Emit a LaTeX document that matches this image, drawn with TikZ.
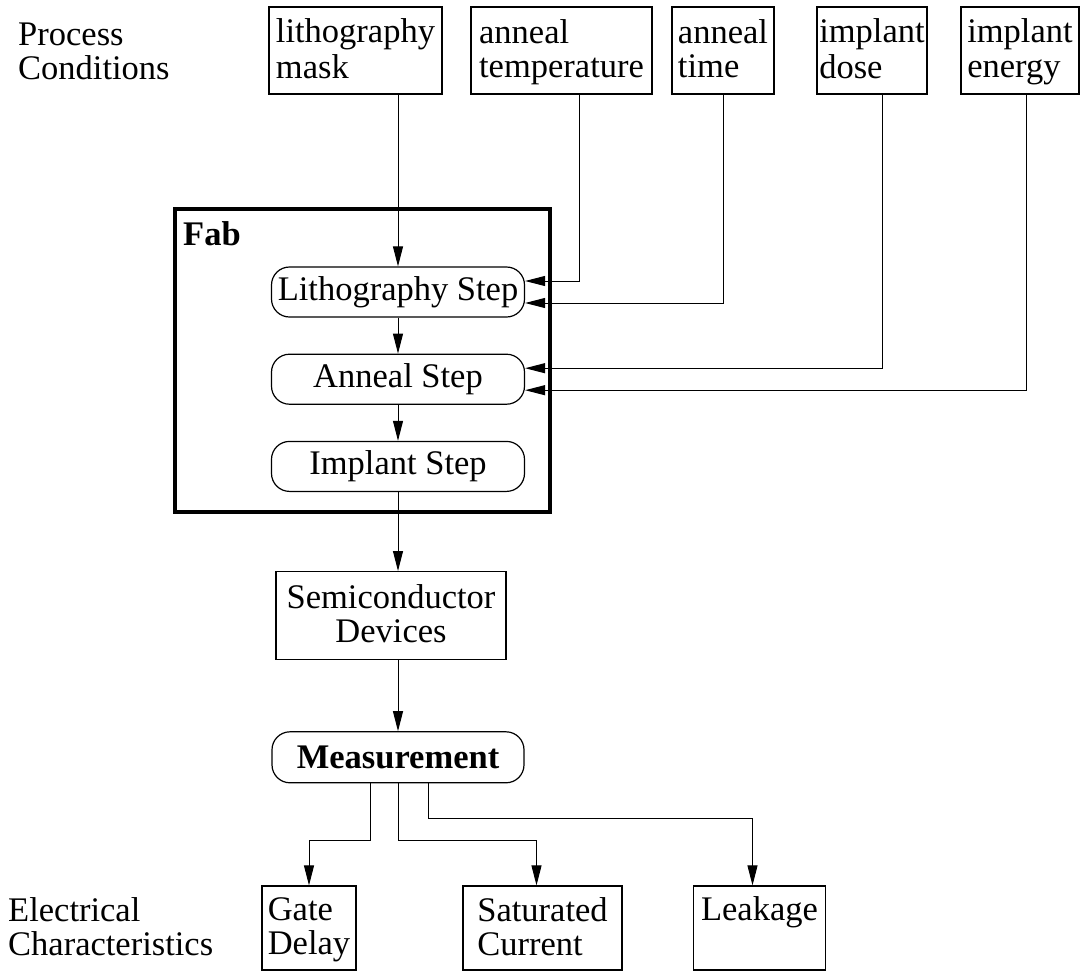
\documentclass[tikz,border=0pt]{standalone}
\usepackage{fontspec}
\setmainfont{Liberation Serif}
\usetikzlibrary{arrows.meta,positioning}
\newcommand{\linestrut}{\rule[-7pt]{0pt}{34pt}}

\begin{document}
\begin{tikzpicture}[x=1pt, y=-1pt, node distance=36pt, >={Triangle[length=20pt,width=10pt]},
  every node/.style={font=\fontsize{34.5}{34}\selectfont, inner sep=0pt},
  cond/.style={draw, line width=1.2pt, align=left, minimum height=87pt},
  stepbox/.style={draw, line width=1.2pt, rounded corners=18pt, minimum width=253pt, minimum height=50pt},
  result/.style={draw, line width=1.2pt, align=left, minimum height=84pt},
  link/.style={->, line width=1pt}]
\useasboundingbox (0,0) rectangle (1081,972);

% process conditions
\node[anchor=west, align=left] (pc) at (18,52) {Process\linestrut\\Conditions\linestrut};
\node[cond, minimum width=173pt] (mask) at (355.5,50.5) {lithography\linestrut\\mask\linestrut};
\node[cond, minimum width=181pt] (atemp) at (561.5,50.5) {anneal\linestrut\\temperature\linestrut};
\node[cond, minimum width=102pt] (atime) at (723,50.5) {anneal\linestrut\\time\linestrut};
\node[cond, minimum width=110pt] (idose) at (872,50.5) {implant\linestrut\\dose\linestrut};
\node[cond, minimum width=118pt] (ienergy) at (1020,50.5) {implant\linestrut\\energy\linestrut};

% fab
\node[draw, line width=3.5pt, minimum width=375pt, minimum height=303pt] (fab) at (362.5,360.5) {};
\node[anchor=base west] (fabname) at (183,245) {\textbf{Fab}};
\node[stepbox] (lstep) at (398,292) {Lithography Step};
\node[stepbox, below=of lstep] (astep) {Anneal Step};
\node[stepbox, below=of astep] (istep) {Implant Step};

\node[draw, line width=1.2pt, align=center, minimum width=230pt, minimum height=88pt, below=79pt of istep, xshift=-7pt] (devices) {Semiconductor\linestrut\\Devices\linestrut};
\node[stepbox, minimum width=252pt, minimum height=51pt, below=71pt of devices, xshift=7pt] (meas) {\textbf{Measurement}};

% electrical characteristics
\node[anchor=west, align=left] (ec) at (8,928) {Electrical\linestrut\\Characteristics\linestrut};
\node[result, minimum width=94pt] (gate) at (309,928) {Gate\linestrut\\Delay\linestrut};
\node[result, minimum width=159pt] (sat) at (542.5,928) {Saturated\linestrut\\Current\linestrut};
\node[result, minimum width=132pt] (leak) at (759.5,928) {Leakage\linestrut\\\linestrut};

\draw[link] (mask.south -| lstep.north) -- (lstep.north);
\draw[link] ([xshift=18pt]atemp.south) |- ([yshift=11pt]lstep.east);
\draw[link] (atime.south) |- ([yshift=-11pt]lstep.east);
\draw[link] ([xshift=10pt]idose.south) |- ([yshift=11pt]astep.east);
\draw[link] ([xshift=6pt]ienergy.south) |- ([yshift=-11pt]astep.east);
\draw[link] (lstep) -- (astep);
\draw[link] (astep) -- (istep);
\draw[link] (istep) -- (istep |- devices.north);
\draw[link] (meas |- devices.south) -- (meas);
\draw[link] ([xshift=-28pt]meas.south) -- ++(0,57) -| (gate.north);
\draw[link] (meas.south) -- ++(0,57) -| ([xshift=-6pt]sat.north);
\draw[link] ([xshift=30pt]meas.south) -- ++(0,35) -| ([xshift=-7pt]leak.north);
\end{tikzpicture}
\end{document}
